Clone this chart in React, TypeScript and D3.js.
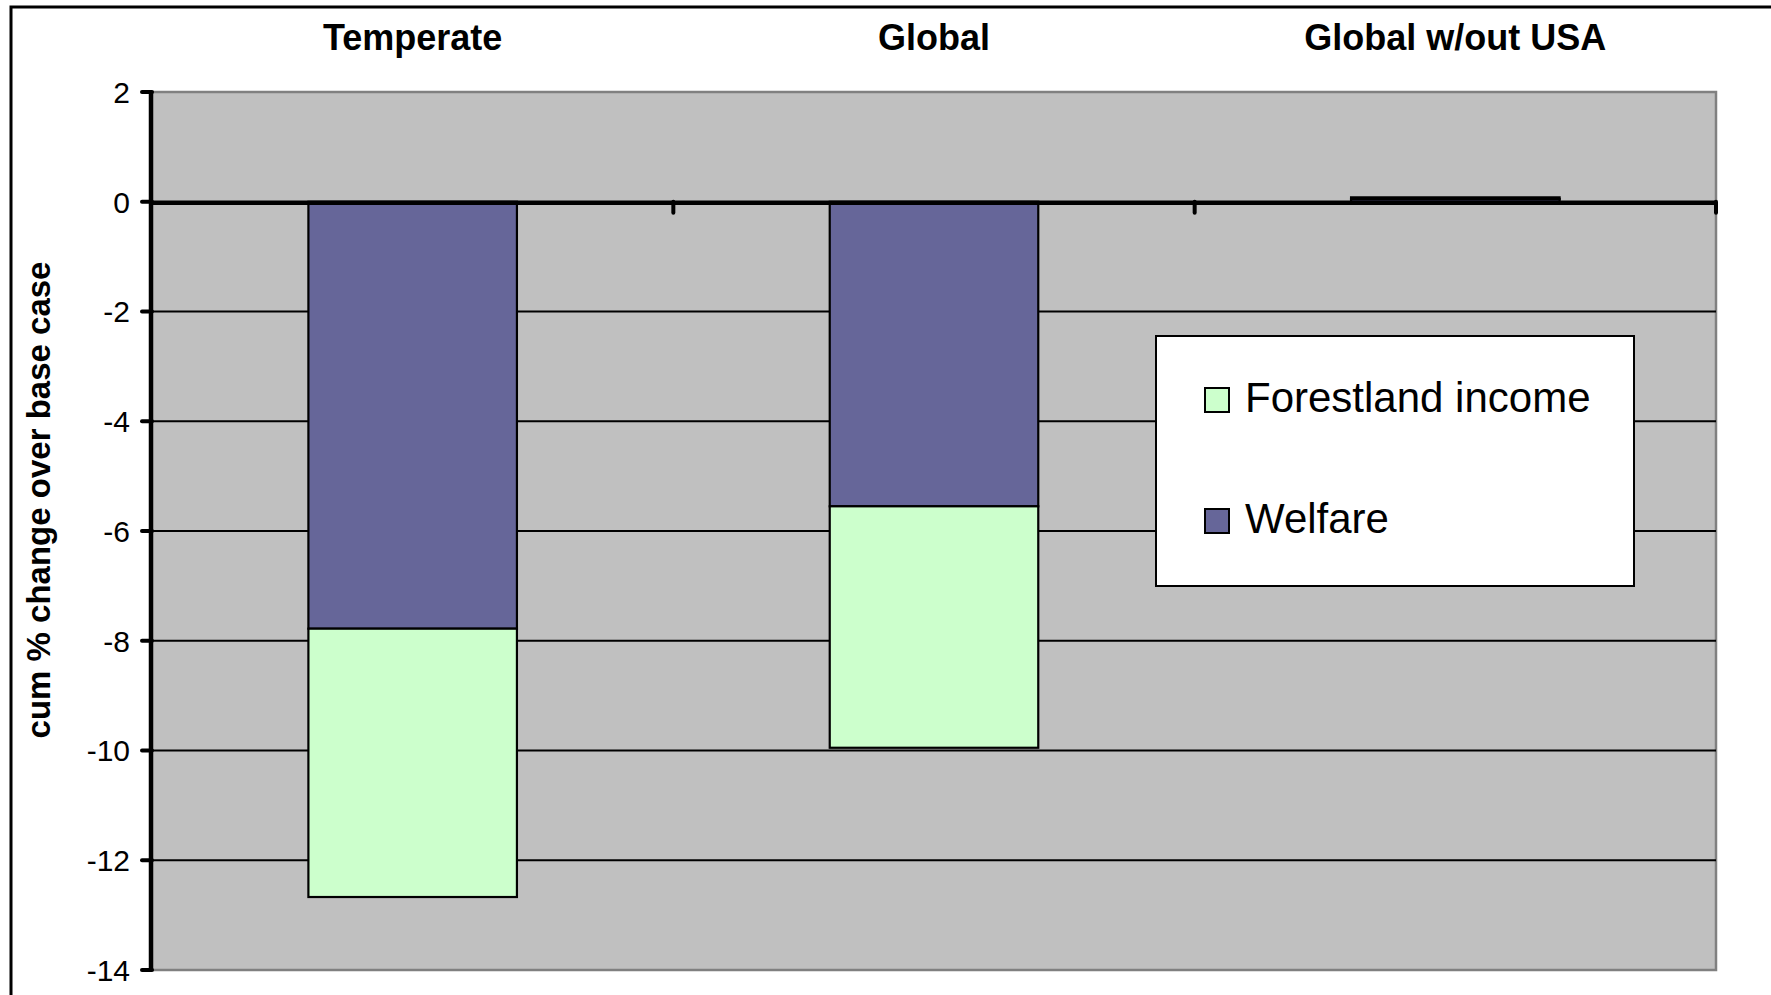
import React from "react";
import * as d3 from "d3";

// Regions compared in the scenario run
const categories = ["Temperate", "Global", "Global w/out USA"];
// Cumulative % change over base case, per component
const welfare = [-7.78, -5.55, 0.05];
const forestlandIncome = [-4.89, -4.4, 0.03];
const yTicks = [2, 0, -2, -4, -6, -8, -10, -12, -14];
const seriesNames = ["Welfare", "Forestland income"];
const seriesColors = ["#666699", "#CCFFCC"];

const W = 1771;
const H = 995;
const plot = { left: 152, right: 1716, top: 92, bottom: 970 };

export default function App() {
  const x = d3.scaleBand<string>().domain(categories).range([plot.left, plot.right]).padding(0);
  const y = d3.scaleLinear().domain([-14, 2]).range([plot.bottom, plot.top]);
  const barW = x.bandwidth() * 0.4;

  const rows = categories.map((c, i) => ({ cat: c, Welfare: welfare[i], "Forestland income": forestlandIncome[i] }));
  const stacked = d3.stack<any>().keys(seriesNames).offset(d3.stackOffsetDiverging)(rows);

  const font = "Arial, 'Liberation Sans', Helvetica, sans-serif";
  const legendItems = [
    { name: "Forestland income", color: seriesColors[1] },
    { name: "Welfare", color: seriesColors[0] },
  ];

  return (
    <div style={{ position: "fixed", left: 0, top: 0, width: W, height: H, background: "#fff" }}>
      <svg width={W} height={H} style={{ display: "block" }} fontFamily={font}>
        <rect x={0} y={0} width={W} height={H} fill="#fff" />
        {/* outer chart frame */}
        <rect x={11} y={7} width={W + 20} height={H + 20} fill="none" stroke="#000" strokeWidth={3} />

        {/* plot area */}
        <rect
          x={plot.left}
          y={plot.top}
          width={plot.right - plot.left}
          height={plot.bottom - plot.top}
          fill="#C0C0C0"
        />
        <path
          d={`M${plot.left},${plot.top}H${plot.right}V${plot.bottom}H${plot.left}`}
          fill="none"
          stroke="#808080"
          strokeWidth={2.5}
        />

        {/* horizontal gridlines */}
        {yTicks
          .filter((t) => t !== 0 && t !== 2 && t !== -14)
          .map((t) => (
            <line key={t} x1={plot.left} x2={plot.right} y1={y(t)} y2={y(t)} stroke="#000" strokeWidth={2.2} />
          ))}

        {/* stacked bars */}
        {stacked.map((s, si) =>
          s.map((d, i) => {
            const x0 = (x(categories[i]) as number) + x.bandwidth() / 2 - barW / 2;
            const y0 = y(Math.max(d[0], d[1]));
            const y1 = y(Math.min(d[0], d[1]));
            return (
              <rect
                key={`${si}-${i}`}
                x={x0}
                y={y0}
                width={barW}
                height={Math.max(0.5, y1 - y0)}
                fill={seriesColors[si]}
                stroke="#000"
                strokeWidth={2.2}
              />
            );
          })
        )}

        {/* zero line (category axis) with ticks between categories */}
        <line x1={plot.left} x2={plot.right} y1={y(0) + 1} y2={y(0) + 1} stroke="#000" strokeWidth={4.5} />
        {categories.map((c) => {
          const tx = (x(c) as number) + x.bandwidth();
          return (
            <line key={c} x1={tx} x2={tx} y1={y(0)} y2={y(0) + 11} stroke="#000" strokeWidth={4} strokeLinecap="round" />
          );
        })}

        {/* value axis */}
        <line x1={plot.left - 1} x2={plot.left - 1} y1={plot.top - 1} y2={plot.bottom + 1} stroke="#000" strokeWidth={4.5} />
        {yTicks.map((t) => (
          <g key={t}>
            <line x1={plot.left - 10} x2={plot.left} y1={y(t)} y2={y(t)} stroke="#000" strokeWidth={4} strokeLinecap="round" />
            <text x={130} y={y(t)} dy="0.36em" textAnchor="end" fontSize={30} fill="#000">
              {t}
            </text>
          </g>
        ))}

        {/* axis title */}
        <text
          transform={`translate(50,${500}) rotate(-90)`}
          textAnchor="middle"
          fontSize={33}
          fontWeight="bold"
          fill="#000"
        >
          cum % change over base case
        </text>

        {/* category labels along the top */}
        {categories.map((c) => (
          <text
            key={c}
            x={(x(c) as number) + x.bandwidth() / 2}
            y={50}
            textAnchor="middle"
            fontSize={36}
            fontWeight="bold"
            fill="#000"
          >
            {c}
          </text>
        ))}

        {/* legend */}
        <rect x={1156} y={336} width={478} height={250} fill="#fff" stroke="#000" strokeWidth={2} />
        {legendItems.map((it, i) => (
          <g key={it.name} transform={`translate(0,${i * 121})`}>
            <rect x={1205} y={388} width={24} height={24} fill={it.color} stroke="#000" strokeWidth={2} />
            <text x={1245} y={412} fontSize={42} fill="#000">
              {it.name}
            </text>
          </g>
        ))}
      </svg>
    </div>
  );
}
